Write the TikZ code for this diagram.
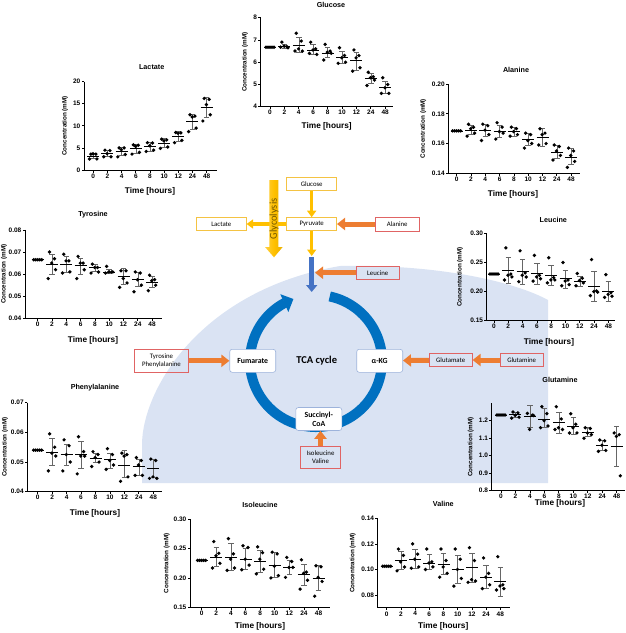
\documentclass[tikz,border=0pt]{standalone}
\usepackage{fontspec}
\setmainfont{Liberation Sans}
\newfontfamily\carl{Carlito}
\usetikzlibrary{arrows.meta,bending}
\definecolor{bgblue}{HTML}{DAE3F3}
\definecolor{gold}{HTML}{FFC000}
\definecolor{goldbox}{HTML}{F4C343}
\definecolor{redbox}{HTML}{E06464}
\definecolor{orng}{HTML}{ED7D31}
\definecolor{midblue}{HTML}{4472C4}
\definecolor{ringblue}{HTML}{0070C0}
\definecolor{nodeedge}{HTML}{9DB3DB}
\definecolor{glytext}{HTML}{735800}
\tikzset{
  axisline/.style={line width=0.75pt, black},
  ticklab/.style={font=\bfseries\fontsize{6.5}{6.5}\selectfont, inner sep=0.8pt},
  ylab/.style={rotate=90, font=\bfseries\fontsize{6.3}{7}\selectfont, inner sep=0pt},
  ptitle/.style={font=\bfseries\fontsize{7.2}{8}\selectfont, inner sep=0pt},
  tlab/.style={font=\bfseries\fontsize{8.3}{9}\selectfont, inner sep=0pt},
  ebar/.style={line width=0.55pt, black!60},
  mline/.style={line width=0.65pt, black},
  ybox/.style={draw=goldbox, line width=0.6pt, font=\carl\fontsize{6.8}{7}\selectfont, minimum width=50pt, minimum height=13pt, inner sep=0pt},
  rbox/.style={draw=redbox, line width=0.8pt, font=\carl\fontsize{6.8}{8}\selectfont, minimum height=13.3pt, inner sep=0pt, align=center},
  cnode/.style={draw=nodeedge, fill=white, rounded corners=2.5pt, line width=0.6pt, minimum width=46pt, minimum height=23pt, inner sep=0pt, font=\carl\bfseries\fontsize{7.8}{8.6}\selectfont, align=center},
  oarrow/.style={draw=orng, line width=5pt, -{Triangle[length=8pt,width=12pt]}},
  yarrow/.style={draw=gold, line width=3.3pt, -{Triangle[length=6.5pt,width=9pt]}},
  barrow/.style={draw=midblue, line width=5pt, -{Triangle[length=7pt,width=11pt]}},
  ring/.style={draw=ringblue, line width=10pt, -{Triangle[length=10pt,width=19pt]}},
}
\newcommand\plotaxes[5]{%
  \draw[axisline] (0,#3) -- (0,#2) -- (#1,#2);
  \foreach \yt [count=\yc] in {#4} \draw[axisline] (0,\yt) -- ++(-2.5pt,0pt) node[left,ticklab] (ytk\yc) {\yt};
  \foreach \xi/\xl in {0/0,1/2,2/4,3/6,4/8,5/10,6/12,7/24,8/48}
    \draw[axisline] ({\plotfirst+\plotstep*\xi},#2) -- ++(0pt,-2.5pt) node[below,ticklab] (xtk\xi) {\xl};
  \node[ylab] (ylb) at ({-#5},{(#2+#3)/2}) {Concentration (mM)};
}
\newcommand\grp[5]{%
  \pgfmathsetmacro\gx{\plotfirst+\plotstep*#1}
  \draw[ebar] (\gx-2.8,#3) -- (\gx+2.8,#3) (\gx,#3) -- (\gx,#4) (\gx-2.8,#4) -- (\gx+2.8,#4);
  \foreach \vv [count=\kk] in {#5} {
    \pgfmathsetmacro\ddx{{-2.5,2.5,-0.3,3.6,-3.8}[\kk-1]}
    \pgfmathsetmacro\px{\gx+\ddx}
    \fill (\px,\vv) circle[radius=1.85pt];
  }
  \draw[mline] (\gx-6,#2) -- (\gx+6,#2);
}
\newcommand\grpz[1]{%
  \foreach \ddx in {-4,-2,0,2,4} {
    \pgfmathsetmacro\px{\plotfirst+\ddx}
    \fill (\px,#1) circle[radius=1.85pt];
  }
  \draw[mline] ({\plotfirst-6},#1) -- ({\plotfirst+6},#1);
}
\begin{document}
\begin{tikzpicture}[x=1pt,y=-1pt]
\useasboundingbox (0,0) rectangle (626,633);
% background region
\fill[bgblue] (142,483) -- (142,445) .. controls (142,390) and (200,290) .. (340,266) .. controls (440,264) and (515,282) .. (548,300) -- (548,483) -- cycle;

% Lactate
\begin{scope}[shift={(84,170)}, y=4.415pt]
\def\plotfirst{9.3}\def\plotstep{14.17}
\plotaxes{132.7}{0}{20}{0,5,10,15,20}{19}
\grp{0}{3.2}{2.6}{3.8}{3.6,3.6,3.7,2.5,2.5}
\grp{1}{3.7}{3.0}{4.4}{4.5,4.4,3.7,3.0,3.0}
\grp{2}{4.3}{3.4}{5.1}{5.0,5.0,4.6,3.5,3.0}
\grp{3}{4.9}{3.9}{5.8}{5.7,5.6,5.4,4.0,3.6}
\grp{4}{5.3}{4.3}{6.3}{6.2,6.1,5.5,4.5,4.2}
\grp{5}{6.1}{5.1}{7.1}{7.0,6.8,6.6,5.2,4.9}
\grp{6}{7.6}{6.5}{8.7}{8.5,8.4,8.3,6.7,6.2}
\grp{7}{11.0}{9.3}{12.7}{12.5,12.2,12.0,9.5,8.7}
\grp{8}{14.1}{11.9}{16.4}{16.2,16.0,14.8,12.5,11.1}
\end{scope}
\node[ptitle] (tLac) at (151.7,66.7) {Lactate};
\node[tlab] (hLac) at (150,191) {Time [hours]};

% Glucose
\begin{scope}[shift={(260.7,106.7)}, y=22.25pt, shift={(0,-4)}]
\def\plotfirst{9.3}\def\plotstep{14.4}
\plotaxes{132.3}{4}{8}{4,5,6,7,8}{15.7}
\grpz{6.67}
\grp{1}{6.72}{6.62}{6.82}{6.9,6.7,6.72,6.65,6.68}
\grp{2}{6.77}{6.45}{7.1}{7.3,6.95,6.6,6.5,6.5}
\grp{3}{6.55}{6.35}{6.8}{6.9,6.6,6.55,6.35,6.4}
\grp{4}{6.42}{6.2}{6.65}{6.8,6.5,6.45,6.4,6.1}
\grp{5}{6.2}{5.95}{6.5}{6.65,6.3,6.2,6.0,5.95}
\grp{6}{6.07}{5.65}{6.45}{6.55,6.3,6.2,5.75,5.6}
\grp{7}{5.27}{5.05}{5.5}{5.55,5.35,5.3,5.2,4.95}
\grp{8}{4.87}{4.6}{5.15}{5.3,5.0,4.85,4.6,4.6}
\end{scope}
\node[ptitle] (tGlc) at (331,4.5) {Glucose};
\node[tlab] (hGlc) at (326.7,126.7) {Time [hours]};

% Alanine
\begin{scope}[shift={(448.3,173.3)}, y=1488pt, shift={(0,-0.14)}]
\def\plotfirst{8.4}\def\plotstep{14.3}
\plotaxes{132}{0.14}{0.20}{0.14,0.16,0.18,0.20}{25}
\grpz{0.1685}
\grp{1}{0.169}{0.166}{0.172}{0.173,0.171,0.170,0.167,0.165}
\grp{2}{0.169}{0.165}{0.173}{0.173,0.172,0.169,0.166,0.162}
\grp{3}{0.168}{0.164}{0.172}{0.174,0.171,0.168,0.167,0.163}
\grp{4}{0.168}{0.165}{0.171}{0.171,0.170,0.168,0.166,0.165}
\grp{5}{0.163}{0.159}{0.167}{0.167,0.166,0.162,0.160,0.157}
\grp{6}{0.164}{0.158}{0.170}{0.170,0.167,0.166,0.160,0.159}
\grp{7}{0.154}{0.150}{0.159}{0.159,0.158,0.155,0.152,0.149}
\grp{8}{0.151}{0.146}{0.157}{0.157,0.155,0.152,0.148,0.144}
\end{scope}
\node[ptitle] (tAla) at (516,70) {Alanine};
\node[tlab] (hAla) at (513,194) {Time [hours]};

% Tyrosine
\begin{scope}[shift={(25,318.3)}, y=2208pt, shift={(0,-0.04)}]
\def\plotfirst{12.7}\def\plotstep{14.3}
\plotaxes{137}{0.04}{0.08}{0.04,0.05,0.06,0.07,0.08}{21}
\grpz{0.0665}
\grp{1}{0.0645}{0.060}{0.069}{0.070,0.067,0.065,0.062,0.058}
\grp{2}{0.0645}{0.061}{0.068}{0.069,0.066,0.066,0.061,0.0605}
\grp{3}{0.0638}{0.060}{0.067}{0.068,0.065,0.065,0.062,0.058}
\grp{4}{0.063}{0.0615}{0.0645}{0.0645,0.063,0.063,0.061,0.0605}
\grp{5}{0.061}{0.0605}{0.062}{0.0635,0.061,0.061,0.061,0.0605}
\grp{6}{0.059}{0.0555}{0.0625}{0.0615,0.0615,0.058,0.056,0.054}
\grp{7}{0.0575}{0.0545}{0.061}{0.061,0.0605,0.0575,0.055,0.052}
\grp{8}{0.0565}{0.054}{0.059}{0.0595,0.0575,0.057,0.055,0.0525}
\end{scope}
\node[ptitle] (tTyr) at (93,215) {Tyrosine};
\node[tlab] (hTyr) at (93,340) {Time [hours]};

% Leucine
\begin{scope}[shift={(486.7,320.7)}, y=582.7pt, shift={(0,-0.15)}]
\def\plotfirst{7.3}\def\plotstep{14.3}
\plotaxes{128.3}{0.15}{0.30}{0.15,0.20,0.25,0.30}{26.7}
\grpz{0.23}
\grp{1}{0.2365}{0.215}{0.258}{0.275,0.23,0.228,0.225,0.22}
\grp{2}{0.234}{0.213}{0.255}{0.27,0.232,0.228,0.225,0.217}
\grp{3}{0.231}{0.213}{0.249}{0.262,0.228,0.225,0.222,0.218}
\grp{4}{0.228}{0.211}{0.245}{0.258,0.224,0.22,0.22,0.215}
\grp{5}{0.222}{0.205}{0.237}{0.25,0.22,0.218,0.212,0.21}
\grp{6}{0.217}{0.209}{0.226}{0.231,0.223,0.219,0.215,0.21}
\grp{7}{0.209}{0.183}{0.235}{0.255,0.201,0.20,0.199,0.193}
\grp{8}{0.200}{0.184}{0.217}{0.229,0.198,0.195,0.192,0.19}
\end{scope}
\node[ptitle] (tLeu) at (553.3,220) {Leucine};
\node[tlab] (hLeu) at (549,342.7) {Time [hours]};

% Phenylalanine
\begin{scope}[shift={(27.3,491.7)}, y=2967pt, shift={(0,-0.04)}]
\def\plotfirst{10.4}\def\plotstep{14.45}
\plotaxes{134.4}{0.04}{0.07}{0.04,0.05,0.06,0.07}{22.3}
\grpz{0.054}
\grp{1}{0.0533}{0.049}{0.058}{0.0595,0.055,0.053,0.052,0.047}
\grp{2}{0.0525}{0.049}{0.056}{0.0575,0.0555,0.0525,0.050,0.047}
\grp{3}{0.0525}{0.048}{0.057}{0.0585,0.0535,0.052,0.052,0.046}
\grp{4}{0.0512}{0.050}{0.053}{0.0535,0.0525,0.0515,0.050,0.0485}
\grp{5}{0.051}{0.048}{0.053}{0.0545,0.0525,0.0505,0.049,0.0475}
\grp{6}{0.049}{0.045}{0.054}{0.053,0.0525,0.052,0.045,0.0435}
\grp{7}{0.0485}{0.0455}{0.051}{0.0515,0.0505,0.049,0.0455,0.0455}
\grp{8}{0.048}{0.045}{0.051}{0.051,0.0505,0.045,0.0445,0.0445}
\end{scope}
\node[ptitle] (tPhe) at (95,388) {Phenylalanine};
\node[tlab] (hPhe) at (95,513.3) {Time [hours]};

% Glutamine
\begin{scope}[shift={(491.7,490.7)}, y=175pt, shift={(0,-0.8)}]
\def\plotfirst{9.3}\def\plotstep{14.46}
\plotaxes{133.3}{0.8}{1.3}{0.8,0.9,1.0,1.1,1.2}{21}
\grpz{1.233}
\grp{1}{1.235}{1.22}{1.25}{1.25,1.245,1.23,1.22,1.215}
\grp{2}{1.225}{1.16}{1.29}{1.242,1.232,1.15,1.23}
\grp{3}{1.21}{1.16}{1.27}{1.28,1.24,1.2,1.17,1.16}
\grp{4}{1.19}{1.13}{1.25}{1.28,1.21,1.16,1.15,1.15}
\grp{5}{1.17}{1.12}{1.22}{1.24,1.18,1.16,1.13,1.13}
\grp{6}{1.135}{1.11}{1.16}{1.16,1.155,1.13,1.12,1.1}
\grp{7}{1.06}{1.03}{1.09}{1.09,1.085,1.06,1.03,1.025}
\grp{8}{1.055}{0.94}{1.17}{1.13,1.12,1.11,0.885}
\end{scope}
\node[ptitle] (tGln) at (560,380) {Glutamine};
\node[tlab] (hGln) at (560,503.3) {Time [hours]};

% Isoleucine
\begin{scope}[shift={(190,607.3)}, y=586.7pt, shift={(0,-0.15)}]
\def\plotfirst{11.7}\def\plotstep{14.6}
\plotaxes{140}{0.15}{0.30}{0.15,0.20,0.25,0.30}{23.3}
\grpz{0.23}
\grp{1}{0.236}{0.22}{0.252}{0.262,0.242,0.238,0.225,0.217}
\grp{2}{0.236}{0.213}{0.259}{0.267,0.241,0.232,0.217,0.213}
\grp{3}{0.232}{0.214}{0.251}{0.255,0.252,0.232,0.222,0.214}
\grp{4}{0.229}{0.21}{0.248}{0.253,0.243,0.232,0.215,0.207}
\grp{5}{0.222}{0.202}{0.243}{0.244,0.241,0.22,0.204,0.20}
\grp{6}{0.219}{0.207}{0.231}{0.235,0.228,0.218,0.218,0.201}
\grp{7}{0.206}{0.187}{0.224}{0.231,0.21,0.208,0.196,0.181}
\grp{8}{0.200}{0.179}{0.221}{0.221,0.219,0.201,0.194,0.169}
\end{scope}
\node[ptitle] (tIle) at (260,505) {Isoleucine};
\node[tlab] (hIle) at (260,626.7) {Time [hours]};

% Valine
\begin{scope}[shift={(377.7,607.8)}, y=1278pt, shift={(0,-0.07)}]
\def\plotfirst{9}\def\plotstep{14.2}
\plotaxes{132}{0.07}{0.14}{0.08,0.10,0.12,0.14}{25}
\grpz{0.1025}
\grp{1}{0.107}{0.100}{0.114}{0.116,0.111,0.106,0.102,0.099}
\grp{2}{0.108}{0.101}{0.116}{0.12,0.112,0.108,0.102,0.101}
\grp{3}{0.105}{0.100}{0.112}{0.116,0.106,0.105,0.102,0.1}
\grp{4}{0.104}{0.096}{0.113}{0.116,0.107,0.102,0.097,0.094}
\grp{5}{0.100}{0.089}{0.111}{0.116,0.108,0.1,0.093,0.087}
\grp{6}{0.1015}{0.090}{0.113}{0.117,0.107,0.092,0.091,0.09}
\grp{7}{0.094}{0.085}{0.103}{0.109,0.097,0.094,0.088,0.085}
\grp{8}{0.0905}{0.079}{0.1015}{0.11,0.088,0.087,0.085,0.084}
\end{scope}
\node[ptitle] (tVal) at (443.3,504) {Valine};
\node[tlab] (hVal) at (443.3,626) {Time [hours]};

% ---- central scheme ----
\node[ybox] (glc) at (311.7,183.7) {Glucose};
\node[ybox] (pyr) at (311.7,224) {Pyruvate};
\node[ybox] (lac) at (221.3,224) {Lactate};
\node[rbox, minimum width=44pt, minimum height=14pt] (ala) at (397.2,224) {Alanine};
\node[rbox, minimum width=43pt] (leu) at (377.7,272.7) {Leucine};
\node[rbox, minimum width=54pt, minimum height=22.7pt] (typ) at (161.5,360.8) {Tyrosine\\Phenylalanine};
\node[rbox, minimum width=43pt] (glu) at (450.7,360) {Glutamate};
\node[rbox, minimum width=43pt] (gln) at (521.7,360) {Glutamine};
\node[rbox, minimum width=40pt, minimum height=21.6pt] (ilv) at (320.5,457.5) {Isoleucine\\Valine};
\coordinate (ytip) at (311.7,256);
\coordinate (btop) at (311.7,257.3);
\coordinate (bbot) at (311.7,292);
\coordinate (leuend) at (315,272.7);
\coordinate (tcac) at (316,361);

\draw[yarrow] (glc) -- (pyr);
\draw[yarrow] (pyr) -- (lac);
\draw[yarrow] (pyr) -- (ytip);
\draw[barrow] (btop) -- (bbot);
\draw[oarrow] (ala) -- (pyr);
\draw[oarrow] (leu) -- (leuend);

% glycolysis arrow
\shade[left color=gold!75!white, right color=gold!92!black, middle color=gold]
  (269.3,180) -- (278.3,180) -- (278.3,247) -- (282.7,247) -- (274,257.3) -- (265,247) -- (269.3,247) -- cycle;
\node[rotate=90, text=glytext, font=\carl\fontsize{10.5}{11}\selectfont, inner sep=0pt] (glyc) at (274,219) {Glycolysis};

% TCA ring
\draw[ring] ([shift={(78:66pt)}]tcac) arc[start angle=78, end angle=-250, radius=66pt];
\node[cnode] (fum) at (252.7,360.8) {Fumarate};
\node[cnode] (akg) at (379.7,360.8) {α-KG};
\node[cnode] (suc) at (318.8,419) {Succinyl-\\CoA};
\node[font=\carl\bfseries\fontsize{10.5}{11}\selectfont, inner sep=0pt] (tca) at (316.7,361) {TCA cycle};

\draw[oarrow] (typ) -- (fum);
\draw[oarrow] (gln) -- (glu);
\draw[oarrow] (glu) -- (akg);
\draw[oarrow] (ilv.north) -- (ilv.north |- suc.south);
\end{tikzpicture}
\end{document}
